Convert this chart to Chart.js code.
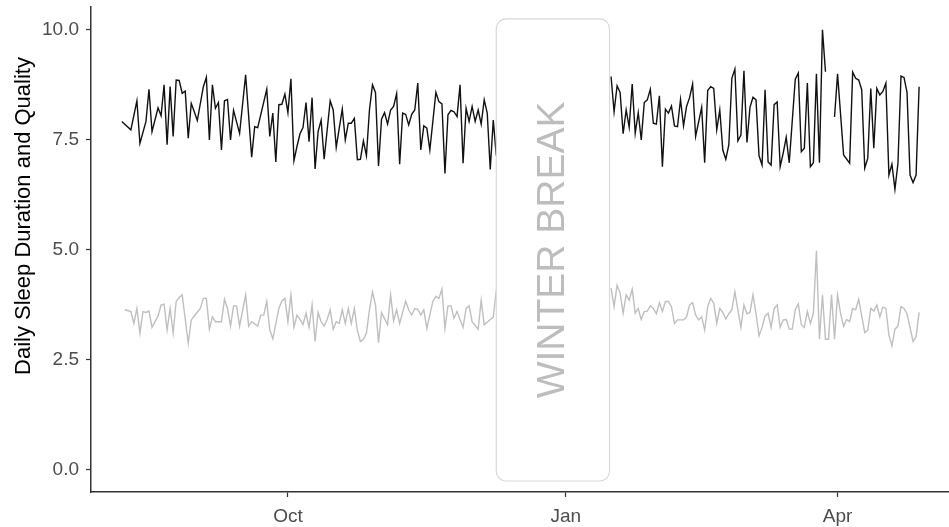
<!DOCTYPE html>
<html>
<head>
<meta charset="utf-8">
<script src="https://cdn.jsdelivr.net/npm/chart.js@4.4.0/dist/chart.umd.min.js"></script>
<style>
  body { margin: 0; background: #fff; }
  #wrap { width: 949px; height: 527px; position: relative; }
</style>
</head>
<body>
<div id="wrap"><canvas id="myChart"></canvas></div>
<script>
// day numbers count from 1 Oct (negative = Aug / Sep)
const sleepDays = [
  -55,-52,-50,-49,-47,-46,-45,-43,-42,-41,-40,-39,-38,-37,-36,-35,-34,-33,-32,-31,
  -30,-28,-27,-26,-25,-24,-23,-22,-21,-20,-19,-18,-16,-14,-12,-11,-10,-7,-6,-5,
  -4,-3,-2,-1,0,1,2,3,4,5,6,7,8,9,10,11,12,14,15,16,
  18,19,20,21,22,23,24,25,26,27,28,29,30,31,32,33,34,35,36,37,
  38,39,40,41,42,43,44,45,46,47,49,50,51,52,53,54,55,56,57,58,
  59,60,61,62,63,64,65,66,67,68,69,70,71,90,
  107,108,109,110,111,112,113,114,115,116,117,118,119,120,121,122,123,124,125,126,
  127,128,129,130,131,132,133,134,135,137,138,139,140,141,142,143,144,145,146,147,
  148,149,150,151,152,153,154,155,156,157,158,159,160,161,162,163,164,165,166,168,
  169,170,171,172,173,174,175,176,177,178,179,181,182,184,186,187,188,189,190,191,
  192,193,194,195,196,197,198,199,200,201,202,203,204,205,206,207,208,209
];
const sleepHours = [
  7.92,7.73,8.39,7.42,7.92,8.65,7.69,8.23,8.05,8.75,7.39,8.71,7.58,8.86,8.85,8.56,8.61,7.54,8.33,8.14,
  7.94,8.71,8.92,7.50,8.75,8.22,8.35,7.27,8.39,8.42,7.50,8.17,7.65,8.98,7.11,7.80,7.78,8.65,7.58,8.11,
  7.00,8.30,8.31,8.54,8.12,8.89,7.03,7.35,7.64,7.78,8.35,7.46,8.46,6.84,7.69,7.95,7.06,8.39,8.18,7.33,
  8.20,7.50,7.88,7.88,7.99,7.05,7.06,7.48,7.14,8.18,8.75,8.58,6.91,7.97,8.12,7.86,8.18,8.26,8.55,6.95,
  8.11,8.08,7.84,8.08,8.18,8.79,7.27,7.82,7.77,7.27,8.58,8.37,8.32,6.74,8.07,8.17,8.14,8.03,8.75,6.97,
  8.22,7.92,8.26,7.92,8.18,7.86,8.41,8.11,6.83,7.95,7.14,8.52,8.67,null,
  8.94,8.14,8.73,8.58,7.64,8.18,7.79,8.77,7.65,8.12,7.50,8.35,8.41,8.65,7.88,7.86,8.50,6.89,8.20,8.11,
  8.27,7.82,7.80,8.42,7.82,8.26,8.46,8.77,7.58,8.24,6.98,8.62,8.71,8.67,7.73,8.18,7.27,7.06,7.39,8.90,
  9.11,7.48,7.61,9.07,7.44,8.24,8.47,8.41,7.14,6.93,8.64,7.00,6.93,8.30,8.36,6.89,7.20,7.56,6.98,8.88,
  9.02,7.23,7.31,8.79,6.89,6.98,9.00,6.98,10.00,9.05,null,8.02,9.00,7.16,6.97,9.04,8.90,8.86,8.64,6.86,
  7.08,8.67,7.31,8.67,8.52,8.60,8.79,6.70,6.95,6.38,6.97,8.95,8.92,8.58,6.70,6.53,6.70,8.71
];
const qualityDays = [
  -54,-52,-51,-50,-49,-48,-47,-46,-45,-43,-42,-41,-40,-39,-38,-37,-36,-35,-33,-32,
  -31,-29,-28,-27,-26,-25,-24,-22,-21,-20,-19,-18,-17,-16,-14,-13,-12,-10,-9,-8,
  -7,-6,-5,-3,-2,-1,0,1,2,3,4,5,6,7,8,9,10,11,12,13,
  14,15,16,17,18,19,20,21,22,23,24,25,26,27,28,29,30,31,33,34,
  35,36,37,39,40,41,42,43,44,45,46,48,49,50,51,52,53,54,55,56,
  58,59,60,61,63,64,65,67,68,69,90,
  107,108,109,110,111,112,113,114,115,116,117,118,119,120,121,122,123,124,125,126,
  127,128,129,131,132,133,134,135,136,137,138,139,140,141,142,143,144,145,146,147,
  148,149,150,151,152,153,154,155,156,157,158,159,160,161,162,163,164,165,166,167,
  168,169,170,171,172,173,174,175,176,177,178,179,180,181,182,183,184,185,186,187,
  188,189,191,192,193,194,195,196,197,198,199,200,201,202,203,204,205,207,208,209
];
const qualityScores = [
  3.64,3.60,3.33,3.67,3.11,3.60,3.58,3.61,3.24,3.50,3.75,3.77,3.18,3.67,3.11,3.83,3.92,3.98,2.88,3.41,
  3.50,3.67,3.90,3.90,3.20,3.48,3.37,3.37,3.88,3.67,3.27,3.73,3.73,3.27,3.98,3.27,3.37,3.27,3.52,3.52,
  3.83,3.18,2.98,3.67,3.84,3.90,3.37,3.98,3.24,3.52,3.42,3.30,3.56,3.24,3.75,2.92,3.58,3.37,3.27,3.42,
  3.64,3.20,3.37,3.33,3.64,3.33,3.67,3.33,3.67,3.17,2.92,2.97,3.11,3.64,4.05,3.75,2.89,3.58,3.30,3.98,
  3.39,3.64,3.33,3.83,3.64,3.52,3.67,3.65,3.52,3.64,3.22,3.83,3.95,3.90,4.11,3.22,3.73,3.73,3.45,3.60,
  3.24,3.67,3.73,3.37,3.20,3.86,3.30,3.42,3.47,4.09,null,
  4.13,3.71,4.20,4.02,3.56,3.98,3.86,4.11,3.56,3.67,3.42,3.60,3.61,3.73,3.67,3.55,3.80,3.60,3.83,3.83,
  3.71,3.33,3.41,3.41,3.48,3.75,3.80,3.52,3.41,3.48,3.18,3.71,3.90,3.79,3.33,3.67,3.58,3.43,3.55,3.64,
  4.05,3.64,3.24,3.75,3.55,3.58,3.98,3.55,3.05,3.24,3.50,3.56,3.24,3.67,3.75,3.24,3.41,3.42,3.20,3.20,
  3.64,3.77,3.30,3.24,3.60,3.33,3.56,4.98,2.97,3.98,2.97,2.97,3.98,2.97,3.98,3.56,3.27,3.42,3.37,3.67,
  3.64,3.88,3.12,3.18,3.67,3.61,3.75,3.48,3.70,3.67,3.07,2.82,3.20,3.27,3.71,3.67,3.55,2.92,3.03,3.58
];

const xTicks = [0, 92, 182];
const xTickLabels = ['Oct', 'Jan', 'Apr'];
const yTicks = [0, 2.5, 5, 7.5, 10];
const yTitle = 'Daily Sleep Duration and Quality';
const breakDays = [69, 106.5];
const breakRange = [-0.25, 10.25];
const breakLabel = 'WINTER BREAK';

const fontFamily = '"Liberation Sans", Arial, sans-serif';

const winterBreak = {
  id: 'winterBreak',
  afterDatasetsDraw(chart) {
    const {ctx, scales: {x, y}} = chart;
    const left = x.getPixelForValue(breakDays[0]);
    const right = x.getPixelForValue(breakDays[1]);
    const top = y.getPixelForValue(breakRange[1]);
    const bottom = y.getPixelForValue(breakRange[0]);
    ctx.save();
    ctx.beginPath();
    ctx.roundRect(left, top, right - left, bottom - top, 10);
    ctx.fillStyle = '#fff';
    ctx.fill();
    ctx.strokeStyle = '#d9d9d9';
    ctx.lineWidth = 1.2;
    ctx.stroke();
    ctx.translate((left + right) / 2, (top + bottom) / 2);
    ctx.rotate(-Math.PI / 2);
    ctx.font = '39px ' + fontFamily;
    ctx.fillStyle = '#bdbdbd';
    ctx.textAlign = 'center';
    ctx.textBaseline = 'middle';
    ctx.fillText(breakLabel, 0, 0);
    ctx.restore();
  }
};

// y title sits a bit above the panel centre in the original
const axisTitle = {
  id: 'axisTitle',
  afterDraw(chart) {
    const {ctx} = chart;
    ctx.save();
    ctx.translate(24, 216);
    ctx.rotate(-Math.PI / 2);
    ctx.font = '22px ' + fontFamily;
    ctx.fillStyle = '#000';
    ctx.textAlign = 'center';
    ctx.textBaseline = 'middle';
    ctx.fillText(yTitle, 0, 0);
    ctx.restore();
  }
};

function toPoints(days, vals) {
  return days.map((d, i) => ({x: d, y: vals[i]}));
}

const config = {
  type: 'line',
  data: {
    datasets: [
      {
        label: 'Sleep duration',
        data: toPoints(sleepDays, sleepHours),
        borderColor: '#111',
        borderWidth: 1.4,
        pointRadius: 0,
        spanGaps: false
      },
      {
        label: 'Sleep quality',
        data: toPoints(qualityDays, qualityScores),
        borderColor: '#bfbfbf',
        borderWidth: 1.4,
        pointRadius: 0,
        spanGaps: false
      }
    ]
  },
  options: {
    responsive: true,
    maintainAspectRatio: false,
    animation: false,
    layout: { padding: { top: 7, right: 0, left: 0, bottom: 0 } },
    plugins: {
      legend: { display: false },
      tooltip: { enabled: false }
    },
    scales: {
      x: {
        type: 'linear',
        min: -65.2,
        max: 218.9,
        afterBuildTicks: s => { s.ticks = xTicks.map(v => ({value: v})); },
        afterFit: s => { s.height = 35; s.paddingLeft = 0; s.paddingRight = 0; },
        border: { display: true, color: '#333', width: 1.5 },
        grid: { drawOnChartArea: false, drawTicks: true, tickLength: 5, color: '#333', tickWidth: 1.2 },
        ticks: {
          color: '#4d4d4d',
          font: { size: 19, family: fontFamily },
          padding: 8,
          maxRotation: 0,
          autoSkip: false,
          callback: (v, i) => xTickLabels[i]
        }
      },
      y: {
        type: 'linear',
        min: -0.5,
        max: 10.52,
        afterBuildTicks: s => { s.ticks = yTicks.map(v => ({value: v})); },
        afterFit: s => { s.width = 91; s.paddingTop = 0; s.paddingBottom = 0; },
        border: { display: true, color: '#333', width: 1.5 },
        grid: { drawOnChartArea: false, drawTicks: true, tickLength: 5, color: '#333', tickWidth: 1.2 },
        ticks: {
          color: '#4d4d4d',
          font: { size: 19, family: fontFamily },
          padding: 7,
          callback: v => v.toFixed(1)
        }
      }
    }
  },
  plugins: [winterBreak, axisTitle]
};

const ctx = document.getElementById('myChart').getContext('2d');
const myChart = new Chart(ctx, config);
</script>
</body>
</html>
